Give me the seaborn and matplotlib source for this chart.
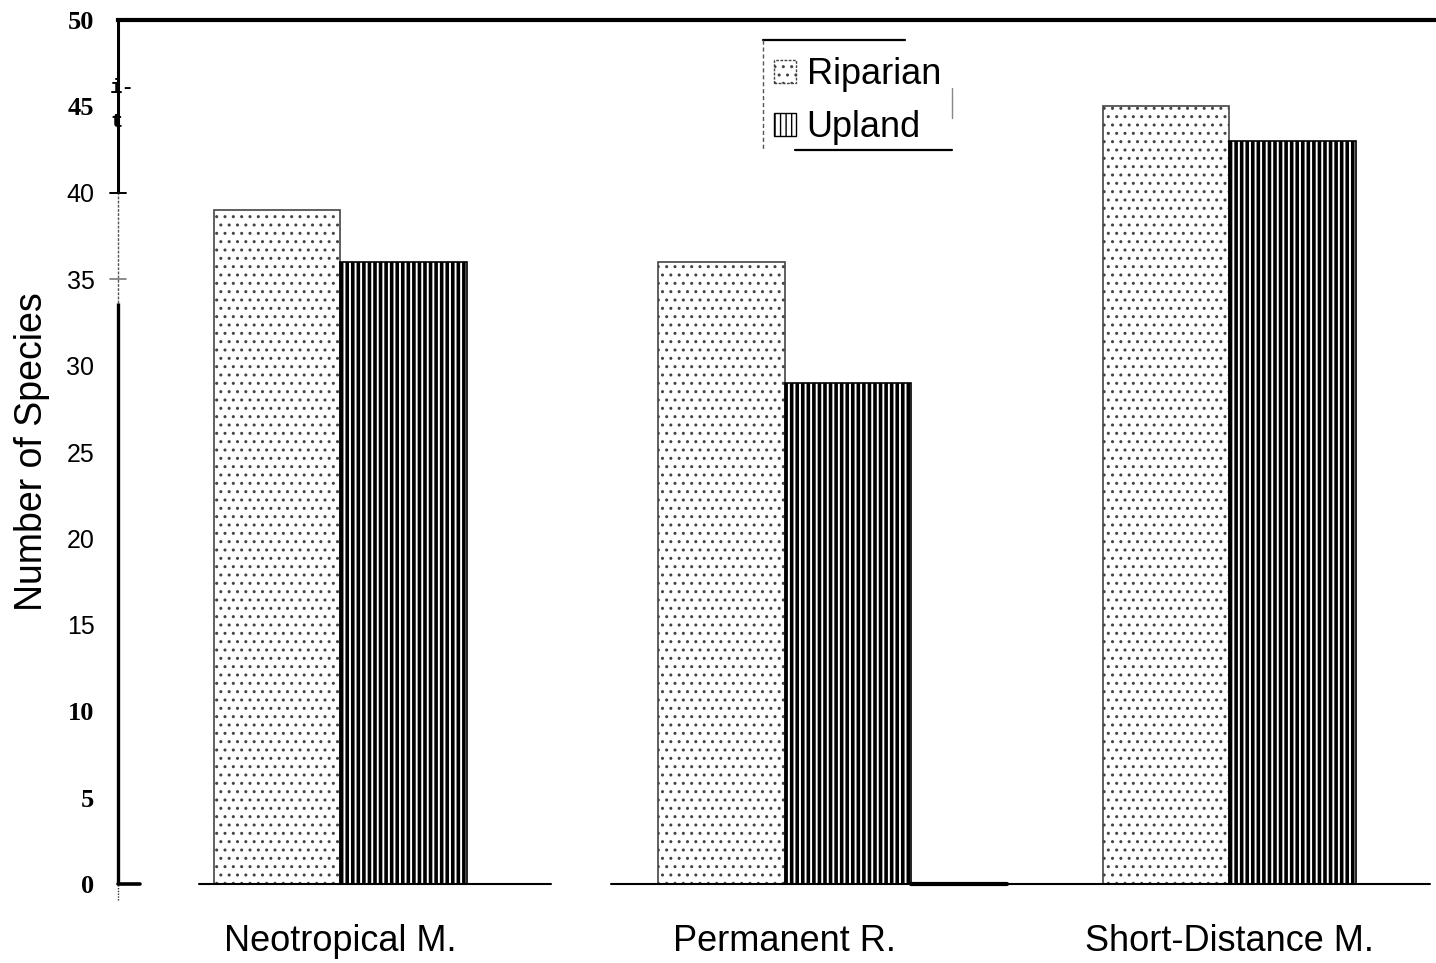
import numpy as np
import pandas as pd
import matplotlib
matplotlib.use("Agg")
import matplotlib.pyplot as plt
import matplotlib.transforms as mtransforms
from matplotlib.patches import Patch
import seaborn as sns

# Species counts per migratory guild and habitat
groups = ["Neotropical M.", "Permanent R.", "Short-Distance M."]
habitats = ["Riparian", "Upland"]
riparian = [39, 36, 45]
upland = [36, 29, 43]
y_ticks = [0, 5, 10, 15, 20, 25, 30, 35, 40, 45, 50]
serif_ticks = [0, 5, 10, 45, 50]

df = pd.DataFrame({
    "group": groups * 2,
    "habitat": ["Riparian"] * len(groups) + ["Upland"] * len(groups),
    "species": riparian + upland,
})

sns.set_theme(style="white")
plt.rcParams["font.family"] = ["Liberation Sans", "DejaVu Sans"]
plt.rcParams["hatch.linewidth"] = 1.0
for key in ["text.color", "axes.labelcolor", "xtick.color", "ytick.color"]:
    plt.rcParams[key] = "black"

fig = plt.figure(figsize=(14.36, 9.63), dpi=100)
ax = fig.add_axes([118 / 1436, 79 / 963, 1 - 118 / 1436, 864 / 963])

sns.barplot(data=df, x="group", y="species", hue="habitat",
            order=groups, hue_order=habitats,
            palette=["white", "white"], saturation=1,
            width=0.57, gap=0, legend=False, ax=ax,
            edgecolor="black", linewidth=1.2)

styles = {
    "Riparian": dict(hatch="..", edgecolor="#444444", hlw=1.0),
    "Upland": dict(hatch="|||", edgecolor="black", hlw=2.6),
}
for container, name in zip(ax.containers, habitats):
    st = styles[name]
    for bar in container:
        bar.set_hatch(st["hatch"])
        bar.set_edgecolor(st["edgecolor"])
        if hasattr(bar, "set_hatch_linewidth"):
            bar.set_hatch_linewidth(st["hlw"])

ax.set_ylim(0, 50)
ax.set_xlim(-0.5, 2.465)

# Axis frame: heavy top rule, broken left rule, no right rule
for side in ["right", "bottom", "left"]:
    ax.spines[side].set_visible(False)
ax.spines["top"].set_linewidth(3.0)
ax.spines["top"].set_color("black")

ylt = mtransforms.blended_transform_factory(ax.transAxes, ax.transData)
ax.plot([0, 0], [40, 50], color="black", lw=2.2, transform=ylt, clip_on=False, solid_capstyle="butt")
ax.plot([0, 0], [33.6, 40], color="#555555", lw=1.0, ls=(0, (2, 1)), transform=ylt, clip_on=False)
ax.plot([0, 0], [0, 33.6], color="black", lw=2.4, transform=ylt, clip_on=False, solid_capstyle="butt")
ax.plot([0, 0], [-0.9, 0], color="#333333", lw=1.0, ls=(0, (1, 1)), transform=ylt, clip_on=False)
# tick marks that remain visible
ax.plot([-0.006, 0.006], [40, 40], color="black", lw=1.4, transform=ylt, clip_on=False)
ax.plot([-0.006, 0.006], [35, 35], color="#777777", lw=1.2, transform=ylt, clip_on=False)
ax.plot([0, 0.0165], [0, 0], color="black", lw=2.6, transform=ylt, clip_on=False)

# Baseline drawn in pieces beneath the bars
ax.plot([-0.317, 0.474], [0, 0], color="black", lw=1.5, clip_on=False)
ax.plot([0.609, 2.452], [0, 0], color="black", lw=1.5, clip_on=False)
ax.plot([1.285, 1.50], [0, 0], color="black", lw=3.0, clip_on=False)

ax.set_yticks(y_ticks)
ax.set_yticklabels([str(t) for t in y_ticks])
for t, lab in zip(y_ticks, ax.get_yticklabels()):
    if t in serif_ticks:
        lab.set_fontfamily(["Liberation Serif", "DejaVu Serif"])
        lab.set_fontweight("bold")
        lab.set_fontsize(19)
    else:
        lab.set_fontsize(18)
ax.tick_params(axis="y", length=0, pad=17)
ax.tick_params(axis="x", length=0, pad=29, labelsize=26)

ax.set_xlabel("")
ax.set_ylabel("Number of Species", fontsize=27, labelpad=12)

# stray marks beside the axis
ax.text(-0.006, 46.1, "i-", transform=ylt, fontsize=15, fontweight="bold",
        family=["Liberation Mono", "DejaVu Sans Mono"], va="center", ha="left")
ax.text(-0.006, 44.1, "t", transform=ylt, fontsize=15, fontweight="bold",
        family=["Liberation Mono", "DejaVu Sans Mono"], va="center", ha="left")

# Legend
handles = [
    Patch(facecolor="white", edgecolor="#444444", hatch="..", linestyle=(0, (2, 1)), label="Riparian"),
    Patch(facecolor="white", edgecolor="black", hatch="|||", label="Upland"),
]
for h, name in zip(handles, habitats):
    if hasattr(h, "set_hatch_linewidth"):
        h.set_hatch_linewidth(styles[name]["hlw"])
leg = ax.legend(handles=handles, loc="upper left", bbox_to_anchor=(0.4905, 0.9675),
                frameon=False, fontsize=26, handlelength=0.62, handleheight=0.62,
                handletextpad=0.3, labelspacing=0.5, borderpad=0.25, borderaxespad=0)

# partial frame around the legend
ax.plot([0.489, 0.597], [0.977, 0.977], color="black", lw=1.6, transform=ax.transAxes, clip_on=False)
ax.plot([0.489, 0.489], [0.977, 0.850], color="#555555", lw=1.0, ls=(0, (3, 2)), transform=ax.transAxes, clip_on=False)
ax.plot([0.514, 0.633], [0.850, 0.850], color="black", lw=1.6, transform=ax.transAxes, clip_on=False)
ax.plot([0.633, 0.633], [0.921, 0.887], color="#888888", lw=1.0, transform=ax.transAxes, clip_on=False)

fig.savefig("out.png", dpi=100)
